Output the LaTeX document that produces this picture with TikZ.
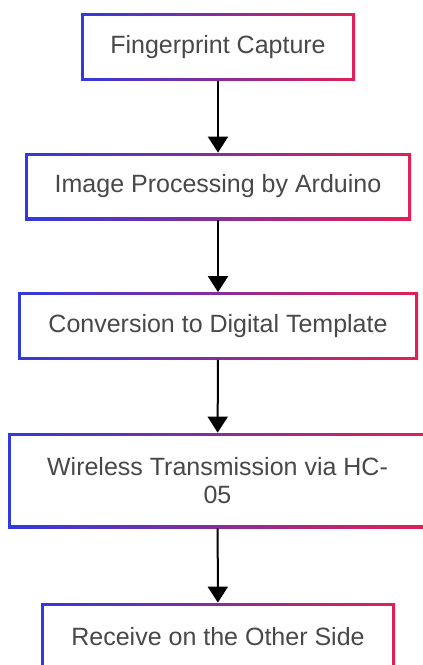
\documentclass[tikz,border=0pt]{standalone}
\usepackage{fontspec}
\setmainfont{Liberation Sans}
\usetikzlibrary{arrows.meta}

\definecolor{edgeblue}{RGB}{48,58,222}
\definecolor{edgered}{RGB}{226,32,84}
\definecolor{textgray}{RGB}{72,72,72}

\begin{document}
\begin{tikzpicture}[
    stage/.style={minimum width=#1, minimum height=33.5pt, inner sep=0pt,
        align=center, text=textgray, font=\fontsize{12.5pt}{14pt}\selectfont,
        path picture={
            \shade[left color=edgeblue, right color=edgered]
                (path picture bounding box.south west) rectangle (path picture bounding box.north east);
            \fill[white]
                ([shift={(1.3pt,1.3pt)}]path picture bounding box.south west)
                rectangle ([shift={(-1.3pt,-1.3pt)}]path picture bounding box.north east);
        }},
    flow/.style={-{Triangle[width=10pt,length=8pt]}, line width=1pt, black},
    x=0.5pt, y=-0.5pt
]

% ── Page (pixel grid, y down) ────────────────────────────────────────────────
\fill[white] (0,0) rectangle (423,665);
\useasboundingbox (0,0) rectangle (423,665);

% ── Stages ───────────────────────────────────────────────────────────────────
\node[stage=137pt] (capture)  at (218, 47)    {Fingerprint Capture};
\node[stage=193pt] (process)  at (218, 186.5) {Image Processing by Arduino};
\node[stage=200pt] (convert)  at (218, 326)   {Conversion to Digital Template};
\node[stage=209.5pt, minimum height=47.5pt]
                   (transmit) at (217.5, 480.5) {Wireless Transmission via HC-\\05};
\node[stage=177pt] (receive)  at (218, 636.5) {Receive on the Other Side};

% ── Arrows ───────────────────────────────────────────────────────────────────
\foreach \a/\b in {capture/process, process/convert, convert/transmit, transmit/receive} {
    \draw[flow] (\a) -- (\b);
}

\end{tikzpicture}
\end{document}
